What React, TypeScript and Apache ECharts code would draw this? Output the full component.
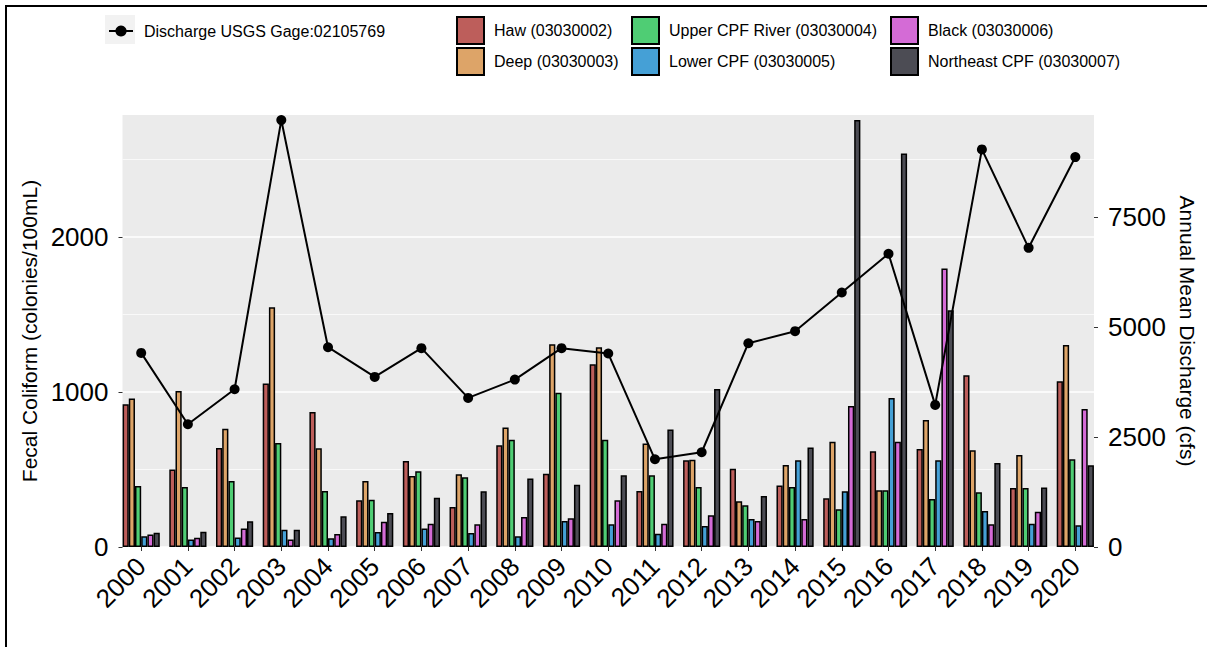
import React, { useEffect, useRef } from "react";
import * as echarts from "echarts";

const years = ["2000","2001","2002","2003","2004","2005","2006","2007","2008","2009","2010","2011","2012","2013","2014","2015","2016","2017","2018","2019","2020"];
const haw = [920, 499, 639, 1054, 871, 301, 555, 258, 656, 473, 1178, 361, 559, 505, 396, 314, 617, 632, 1107, 381, 1069];
const deep = [957, 1006, 763, 1546, 636, 426, 458, 469, 770, 1307, 1288, 667, 563, 295, 529, 679, 366, 819, 624, 593, 1303];
const upperCPF = [393, 387, 426, 671, 361, 305, 488, 449, 692, 995, 692, 462, 387, 269, 387, 243, 366, 310, 353, 381, 565];
const lowerCPF = [69, 49, 62, 112, 56, 97, 120, 90, 69, 168, 146, 86, 135, 181, 559, 359, 961, 559, 232, 150, 140];
const black = [80, 60, 120, 49, 84, 163, 150, 146, 194, 185, 301, 150, 204, 168, 181, 909, 679, 1795, 146, 228, 890];
const northeastCPF = [92, 99, 166, 112, 198, 219, 318, 359, 441, 402, 462, 757, 1019, 329, 641, 2752, 2537, 1527, 542, 383, 527];
const discharge = [4417, 2793, 3590, 9715, 4546, 3871, 4524, 3393, 3810, 4524, 4402, 1996, 2156, 4637, 4911, 5791, 6672, 3233, 9047, 6808, 8873];

const leftTicks = [0, 1000, 2000];
const rightTicks = [0, 2500, 5000, 7500];
const lineName = "Discharge USGS Gage:02105769";

const barSeriesDefs = [
  { name: "Haw (03030002)", data: haw, color: "#bd5e5b" },
  { name: "Deep (03030003)", data: deep, color: "#dda468" },
  { name: "Upper CPF River (03030004)", data: upperCPF, color: "#4fcd74" },
  { name: "Lower CPF (03030005)", data: lowerCPF, color: "#45a0d6" },
  { name: "Black (03030006)", data: black, color: "#d46bd6" },
  { name: "Northeast CPF (03030007)", data: northeastCPF, color: "#4c4c54" },
];

const FONT = "'Liberation Sans', Arial, sans-serif";

export default function App() {
  const ref = useRef<HTMLDivElement>(null);
  useEffect(() => {
    if (!ref.current) return;
    const chart = echarts.init(ref.current, undefined, { renderer: "svg" });
    const idx = years.map((_, i) => i);
    const barLegend = (names: string[], left: number) => ({
      data: names.map((n) => ({ name: n, icon: "rect" })),
      orient: "vertical",
      left,
      top: 16,
      padding: 0,
      itemWidth: 27,
      itemHeight: 27,
      itemGap: 2,
      itemStyle: { borderColor: "#000", borderWidth: 2 },
      textStyle: { fontSize: 16, color: "#000", fontFamily: FONT, padding: [0, 0, 0, 5] },
    });
    chart.setOption({
      animation: false,
      backgroundColor: "#fff",
      textStyle: { fontFamily: FONT },
      graphic: [
        { type: "line", shape: { x1: 5, y1: 6, x2: 1207, y2: 6 }, style: { stroke: "#000", lineWidth: 2 } },
        { type: "line", shape: { x1: 6, y1: 5, x2: 6, y2: 647 }, style: { stroke: "#000", lineWidth: 2 } },
        { type: "rect", z: 0, shape: { x: 105, y: 15, width: 30, height: 29 }, style: { fill: "#f2f2f2" } },
      ],
      legend: [
        {
          data: [lineName],
          left: 108,
          top: 23,
          padding: 0,
          itemWidth: 24,
          itemHeight: 14,
          textStyle: { fontSize: 16, color: "#000", fontFamily: FONT, padding: [0, 0, 0, 6] },
        },
        barLegend([barSeriesDefs[0].name, barSeriesDefs[1].name], 456),
        barLegend([barSeriesDefs[2].name, barSeriesDefs[3].name], 631),
        barLegend([barSeriesDefs[4].name, barSeriesDefs[5].name], 890),
      ],
      grid: {
        left: 122.5,
        right: 113,
        top: 115,
        bottom: 100,
        show: true,
        backgroundColor: "#ebebeb",
        borderWidth: 0,
        containLabel: false,
      },
      xAxis: {
        type: "value",
        min: -0.4,
        max: 20.4,
        axisLine: { show: false, onZero: false },
        splitLine: { show: false },
        axisTick: { show: true, length: 4, customValues: idx, lineStyle: { color: "#333", width: 1 } },
        axisLabel: {
          customValues: idx,
          formatter: (v: number) => years[Math.round(v)] ?? "",
          rotate: 45,
          fontSize: 26,
          color: "#000",
          margin: 15,
          padding: [16, 0, 0, 0],
          fontFamily: FONT,
        },
      },
      yAxis: [
        {
          type: "value",
          position: "left",
          min: 0,
          max: 2785,
          interval: 1000,
          name: "Fecal Coliform (colonies/100mL)",
          nameLocation: "middle",
          nameRotate: 90,
          nameGap: 80,
          nameTextStyle: { fontSize: 21, color: "#000", fontFamily: FONT },
          axisLine: { show: false, onZero: false },
          axisTick: { show: true, length: 4, customValues: leftTicks, lineStyle: { color: "#333", width: 1 } },
          axisLabel: {
            customValues: leftTicks,
            formatter: (v: number) => String(v),
            fontSize: 26,
            color: "#000",
            margin: 14,
            fontFamily: FONT,
          },
          splitLine: { show: true, lineStyle: { color: "#fff", width: 1.6 } },
          minorTick: { show: false, splitNumber: 2 },
          minorSplitLine: { show: true, lineStyle: { color: "#fff", width: 0.7 } },
        },
        {
          type: "value",
          position: "right",
          min: 0,
          max: 9830,
          interval: 2500,
          name: "Annual Mean Discharge (cfs)",
          nameLocation: "middle",
          nameRotate: -90,
          nameGap: 82,
          nameTextStyle: { fontSize: 21, color: "#000", fontFamily: FONT },
          axisLine: { show: false, onZero: false },
          axisTick: { show: true, length: 4, customValues: rightTicks, lineStyle: { color: "#333", width: 1 } },
          axisLabel: {
            customValues: rightTicks,
            formatter: (v: number) => String(v),
            fontSize: 26,
            color: "#000",
            margin: 14,
            fontFamily: FONT,
          },
          splitLine: { show: false },
        },
      ],
      series: [
        ...barSeriesDefs.map((s) => ({
          name: s.name,
          type: "bar",
          xAxisIndex: 0,
          yAxisIndex: 0,
          data: s.data.map((v, i) => [i, v]),
          barWidth: 6.2,
          barGap: "0%",
          itemStyle: { color: s.color, borderColor: "#000", borderWidth: 1.5 },
        })),
        {
          name: lineName,
          type: "line",
          xAxisIndex: 0,
          yAxisIndex: 1,
          data: discharge.map((v, i) => [i, v]),
          symbol: "circle",
          symbolSize: 10,
          z: 10,
          lineStyle: { color: "#000", width: 2 },
          itemStyle: { color: "#000" },
        },
      ],
    });
    return () => chart.dispose();
  }, []);
  return (
    <div
      ref={ref}
      style={{ position: "fixed", left: 0, top: 0, width: 1207, height: 647, background: "#fff" }}
    />
  );
}
